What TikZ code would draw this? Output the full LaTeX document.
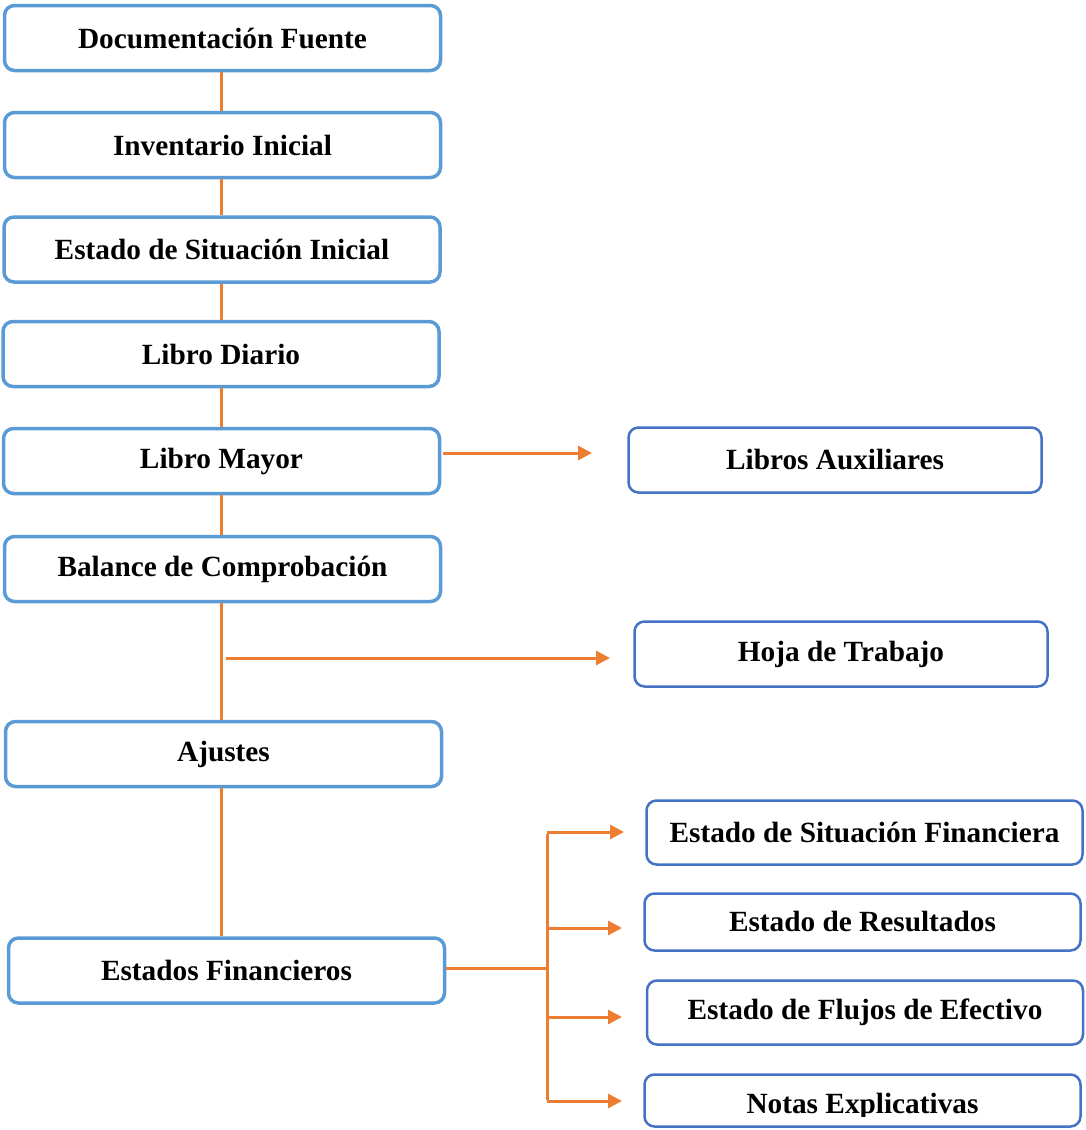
\documentclass[tikz,border=0pt]{standalone}
\usepackage{fontspec}
\setmainfont{Liberation Serif}
\usetikzlibrary{arrows.meta}
\definecolor{lblue}{HTML}{5B9BD5}
\definecolor{dblue}{HTML}{4472C4}
\definecolor{orng}{HTML}{ED7D31}
\tikzset{
  lbox/.style={draw=lblue, line width=3.5pt, rounded corners=10pt, fill=white,
    minimum width=436pt, minimum height=65pt, inner sep=0pt,
    font=\fontsize{29.3}{34}\selectfont\bfseries},
  rbox/.style={draw=dblue, line width=2.5pt, rounded corners=10pt, fill=white,
    minimum width=413pt, minimum height=65pt, inner sep=0pt,
    font=\fontsize{29.3}{34}\selectfont\bfseries},
  conn/.style={draw=orng, line width=3pt},
  arr/.style={conn, -{Triangle[length=14pt,width=14pt]}}
}
\begin{document}
\begin{tikzpicture}[x=1pt,y=-1pt]
\useasboundingbox (0,0) rectangle (1085,1130);
% left column
\node[lbox] (doc) at (222.5,38) {Documentación Fuente};
\node[lbox] (inv) at (222.5,145) {Inventario Inicial};
\node[lbox] (esi) at (222,249.5) {Estado de Situación Inicial};
\node[lbox] (ld)  at (221,354) {Libro Diario};
\node[lbox] (lm)  at (221.5,461) {Libro Mayor};
\node[lbox] (bc)  at (222.5,569) {Balance de Comprobación};
\node[lbox] (aj)  at (223.5,754) {Ajustes};
\node[lbox] (ef)  at (226.5,970.5) {Estados Financieros};
% right column
\node[rbox] (la)  at (835,460) {Libros Auxiliares};
\node[rbox] (ht)  at (841,654) {Hoja de Trabajo};
\node[rbox, minimum width=436pt, minimum height=64pt] (esf) at (864.5,832.5) {Estado de Situación Financiera};
\node[rbox, minimum width=436pt, minimum height=57pt] (er)  at (862.5,922) {Estado de Resultados};
\node[rbox, minimum width=436pt, minimum height=64pt] (efe) at (865,1012.5) {Estado de Flujos de Efectivo};
\node[rbox, minimum width=436pt, minimum height=52pt] (ne) at (862.5,1100.5) {};
\begin{scope}
  \clip (600,1060) rectangle (1085,1116);
  \node[font=\fontsize{29.3}{34}\selectfont\bfseries, inner sep=0pt] (netext) at (862.5,1106) {Notas Explicativas};
\end{scope}
% trunk
\coordinate (tx) at (221,0);
\draw[conn] (doc.south -| tx) -- (inv.north -| tx);
\draw[conn] (inv.south -| tx) -- (esi.north -| tx);
\draw[conn] (esi.south -| tx) -- (ld.north -| tx);
\draw[conn] (ld.south -| tx) -- (lm.north -| tx);
\draw[conn] (lm.south -| tx) -- (bc.north -| tx);
\draw[conn] (bc.south -| tx) -- (aj.north -| tx);
\draw[conn] (aj.south -| tx) -- (ef.north -| tx);
% side arrows
\coordinate (lmout) at (443,453);
\coordinate (laend) at (592,453);
\draw[arr] (lmout) -- (laend);
\coordinate (htstart) at (226,658);
\coordinate (htend) at (610,658);
\draw[arr] (htstart) -- (htend);
% branch
\coordinate (bx) at (547,968);
\coordinate (b1) at (547,832);
\coordinate (b2) at (547,928);
\coordinate (b3) at (547,1017);
\coordinate (b4) at (547,1101);
\draw[conn] (ef.east |- bx) -- (bx);
\draw[conn] ([yshift=-1.5pt]b1) -- ([yshift=1.5pt]b4);
\draw[arr] (b1) -- (624,832) coordinate (e1);
\draw[arr] (b2) -- (622,928) coordinate (e2);
\draw[arr] (b3) -- (622,1017) coordinate (e3);
\draw[arr] (b4) -- (622,1101) coordinate (e4);
\end{tikzpicture}
\end{document}
